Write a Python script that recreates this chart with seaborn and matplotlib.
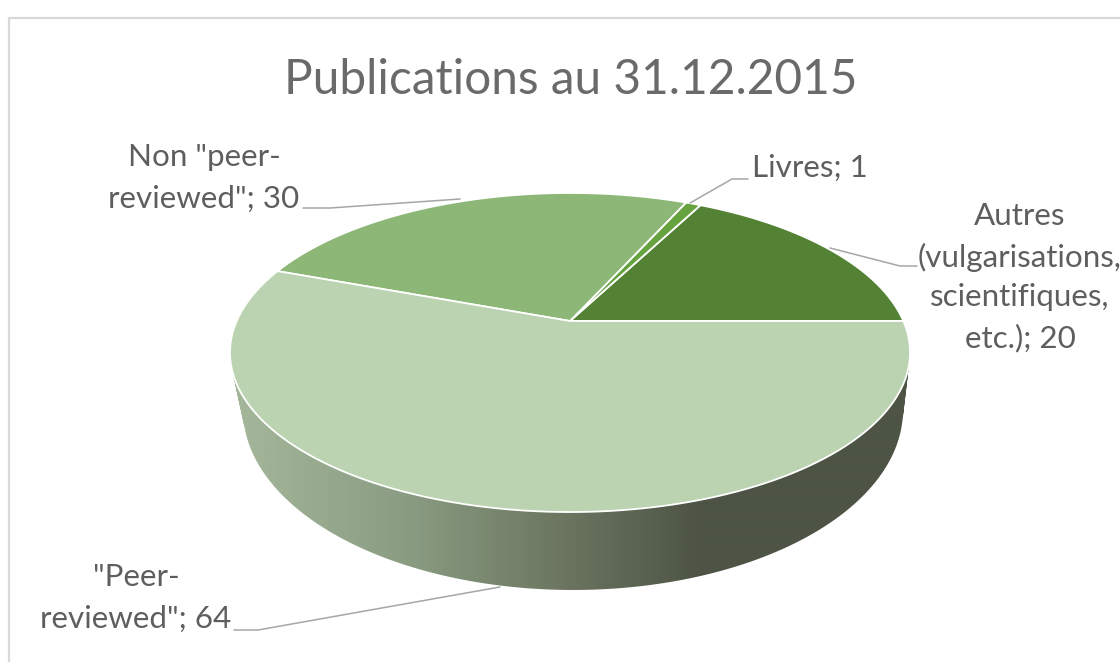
import numpy as np
import matplotlib
matplotlib.use("Agg")
import matplotlib.pyplot as plt
from matplotlib.path import Path
from matplotlib.patches import PathPatch
from matplotlib.colors import ListedColormap
import seaborn as sns

# Data, counter-clockwise from the east edge
categories = ["Autres", "Livres", "Non peer-reviewed", "Peer-reviewed"]
values = [20, 1, 30, 64]
top_colors = ["#548235", "#66a33f", "#8cb777", "#bbd3b0"]

sns.set_theme(style="white")
plt.rcParams["font.family"] = ["Lato", "DejaVu Sans"]

TEXT = "#5e5e5e"
LEADER = "#a6a6a6"

# Perspective of the disc, in picture pixels
K = 0.1975


def rim_top(t):
    w = 1 + K * np.sin(t)
    return 570 + 333.3 * np.cos(t) / w, 321 - 153.3 * np.sin(t) / w


def rim_bottom(t):
    w = 1 + K * np.sin(t)
    return 573 + 323.5 * np.cos(t) / w, 374.4 - 173 * np.sin(t) / w


fig = plt.figure(figsize=(11.2, 6.62), dpi=100)
ax = fig.add_axes([0, 0, 1, 1])

# Chart frame, cut off at the right and bottom of the picture
ax.plot([9, 9, 1125], [670, 18, 18], color="#d9d9d9", lw=1.6, zorder=1)

# Side wall: horizontal gradient clipped to the band between both rims
wall_angles = np.radians(np.arange(150, 391, 1.0))
quads = []
for a, b in zip(wall_angles[:-1], wall_angles[1:]):
    xt0, yt0 = rim_top(a)
    xt1, yt1 = rim_top(b)
    xb0, yb0 = rim_bottom(a)
    xb1, yb1 = rim_bottom(b)
    pts = np.array([(xt0, yt0), (xt1, yt1), (xb1, yb1), (xb0, yb0)])
    # same winding for every strip, so overlapping strips do not cancel
    area = np.sum(pts[:, 0] * np.roll(pts[:, 1], -1) - np.roll(pts[:, 0], -1) * pts[:, 1])
    if area < 0:
        pts = pts[::-1]
    quads.append(Path(np.vstack([pts, pts[:1]]), closed=True))
wall_path = Path.make_compound_path(*quads)

wall_palette = sns.blend_palette(["#a4b79a", "#8b9e84", "#6c7660", "#4d5445"], 256)
grad_x = np.arange(225, 915)
grad = np.interp(grad_x, [235, 400, 560, 700], [0, 85, 170, 255])
img = ax.imshow(grad[None, :], cmap=ListedColormap(wall_palette), vmin=0, vmax=255,
                extent=[225, 915, 600, 340], aspect="auto", interpolation="bilinear", zorder=2)
clip = PathPatch(wall_path, transform=ax.transData, facecolor="none", edgecolor="none")
ax.add_patch(clip)
img.set_clip_path(clip)

# Top face: one wedge per value
edges = np.cumsum([0] + values) / sum(values) * 2 * np.pi
for start, end, col in zip(edges[:-1], edges[1:], top_colors):
    t = np.linspace(start, end, 200)
    xs, ys = rim_top(t)
    ax.fill(np.r_[570, xs], np.r_[321, ys], facecolor=col, edgecolor="white",
            lw=1.3, joinstyle="round", zorder=3)

# Leader lines
leaders = [
    ([303, 330, 460], [208, 208, 199]),
    ([748, 732, 690], [179, 179, 203]),
    ([917, 900, 830], [266, 266, 248]),
    ([234, 258, 500], [630, 630, 587]),
]
for lx, ly in leaders:
    ax.plot(lx, ly, color=LEADER, lw=1.1, zorder=4)

ax.text(571, 80, "Publications au 31.12.2015", color="#6a6a6a", fontsize=34.4,
        ha="center", va="center")

label_size = 22.6
labels = [
    (204, 157, 'Non "peer-'),
    (204, 199, 'reviewed"; 30'),
    (810, 168, "Livres; 1"),
    (1020, 216, "Autres"),
    (1020, 257, "(vulgarisations,"),
    (1020, 297, "scientifiques,"),
    (1020, 338, "etc.); 20"),
    (136, 577, '"Peer-'),
    (136, 619, 'reviewed"; 64'),
]
for x, y, s in labels:
    ax.text(x, y, s, color=TEXT, fontsize=label_size, ha="center", va="center")

ax.set_xlim(0, 1120)
ax.set_ylim(662, 0)
ax.axis("off")

fig.savefig("out.png", dpi=100)
plt.close(fig)
